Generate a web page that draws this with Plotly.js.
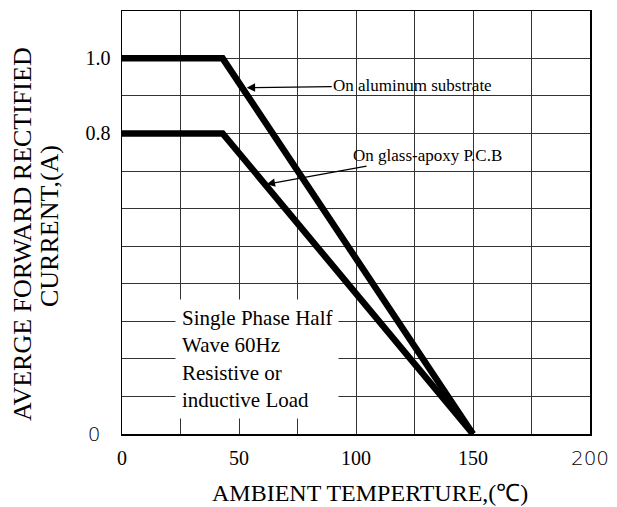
<!DOCTYPE html>
<html>
<head>
<meta charset="utf-8">
<script src="https://cdn.plot.ly/plotly-3.0.1.min.js"></script>
<style>html,body{margin:0;padding:0;background:#fff;}#chart{width:617px;height:507px;}</style>
</head>
<body>
<div id="chart"></div>
<script>
// Data
const temperature = [0, 43, 150];
const currentAluminum = [1.0, 1.0, 0];
const currentGlassEpoxy = [0.8, 0.8, 0];

// Axis ticks / grid
const thin = 'font-family:DejaVu Sans ExtraLight, DejaVu Sans, sans-serif;font-weight:200';
const xTickVals = [0, 25, 50, 75, 100, 125, 150, 175, 200];
const xTickText = ['0', '', '50', '', '100', '', '150', '', '<span style="' + thin + '">200</span>'];
const yTickVals = [0, 0.1, 0.2, 0.3, 0.4, 0.5, 0.6, 0.7, 0.8, 0.9, 1.0];
const yTickText = ['<span style="' + thin + '">0</span>\u00a0\u00a0', '', '', '', '', '', '', '', '0.8', '', '1.0'];

const serif = 'Liberation Serif, Times New Roman, serif';

const traces = [
  {x: temperature, y: currentAluminum, mode: 'lines', name: 'On aluminum substrate',
   line: {color: '#000', width: 6.5}},
  {x: temperature, y: currentGlassEpoxy, mode: 'lines', name: 'On glass-apoxy P.C.B',
   line: {color: '#000', width: 6.5}}
];

const layout = {
  width: 617, height: 507,
  margin: {l: 122, r: 27, t: 11, b: 73},
  paper_bgcolor: '#fff', plot_bgcolor: '#fff',
  showlegend: false,
  font: {family: serif, color: '#000', size: 20},
  xaxis: {
    range: [0, 200], tickvals: xTickVals, ticktext: xTickText,
    showgrid: true, gridcolor: '#333', gridwidth: 1,
    zeroline: false, showline: true, linecolor: '#000', linewidth: 1.5, mirror: true,
    ticks: '', tickfont: {family: serif, size: 20, color: '#000'},
    ticklabelstandoff: 5
  },
  yaxis: {
    range: [0, 1.126], tickvals: yTickVals, ticktext: yTickText,
    showgrid: true, gridcolor: '#333', gridwidth: 1,
    zeroline: false, showline: true, linecolor: '#000', linewidth: 1.5, mirror: true,
    ticks: '', tickfont: {family: serif, size: 20, color: '#000'},
    ticklabelstandoff: 6
  },
  annotations: [
    // axis titles
    {xref: 'paper', yref: 'paper', x: 0.53, y: -0.1395, xanchor: 'center', yanchor: 'middle', showarrow: false,
     text: 'AMBIENT TEMPERTURE,(℃)', font: {family: serif, size: 24, color: '#000'}},
    {xref: 'paper', yref: 'paper', x: -0.2137, y: 0.4728, xanchor: 'center', yanchor: 'middle', showarrow: false, textangle: -90,
     text: 'AVERGE FORWARD RECTIFIED', font: {family: serif, size: 26, color: '#000'}},
    {xref: 'paper', yref: 'paper', x: -0.156, y: 0.4917, xanchor: 'center', yanchor: 'middle', showarrow: false, textangle: -90,
     text: 'CURRENT,(A)', font: {family: serif, size: 26, color: '#000'}},
    // curve labels
    {x: 53.3, y: 0.922, xref: 'x', yref: 'y', text: 'On aluminum substrate',
     showarrow: true, ax: 166, ay: -2, arrowhead: 2, arrowsize: 1.4, arrowwidth: 1.2, arrowcolor: '#000',
     font: {family: serif, size: 17, color: '#000'}},
    {x: 61.8, y: 0.665, xref: 'x', yref: 'y', text: 'On glass-apoxy P.C.B',
     showarrow: true, ax: 161, ay: -29, arrowhead: 2, arrowsize: 1.4, arrowwidth: 1.2, arrowcolor: '#000',
     font: {family: serif, size: 17, color: '#000'}},
    // condition note
    {x: 57.5, y: 0.2, xref: 'x', yref: 'y', showarrow: false, align: 'left',
     text: 'Single Phase Half<br>Wave 60Hz<br>Resistive or<br>inductive Load',
     bgcolor: '#fff', borderpad: 6,
     font: {family: serif, size: 21, color: '#000'}}
  ]
};

Plotly.newPlot('chart', traces, layout, {displayModeBar: false, staticPlot: true});
</script>
</body>
</html>
